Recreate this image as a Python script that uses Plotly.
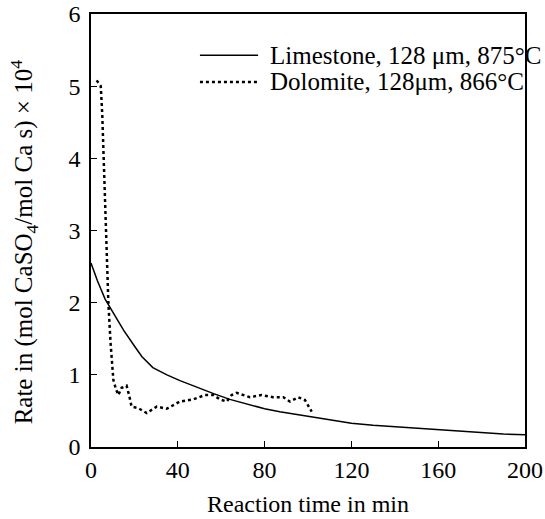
import plotly.graph_objects as go

# Limestone, 128 um, 875 C
lime_t = [0, 3, 6.5, 10, 15, 20, 23.5, 28.5, 35, 41, 50, 56.5, 64, 72, 80, 87, 95,
          102, 110, 120, 130, 140, 150, 160, 170, 180, 190, 200]
lime_r = [2.55, 2.3, 2.05, 1.88, 1.62, 1.40, 1.25, 1.10, 1.00, 0.92, 0.81, 0.74, 0.66,
          0.59, 0.53, 0.49, 0.45, 0.41, 0.37, 0.33, 0.30, 0.28, 0.26, 0.24, 0.22, 0.19,
          0.18, 0.17]

# Dolomite, 128 um, 866 C
dolo_t = [2.6, 4.5, 5.2, 6.0, 7.0, 8.0, 9.0, 10.3, 11.5, 12.6, 14.1, 16.4, 17.7, 18.7,
          21.7, 25.7, 30.3, 34.9, 41, 47.1, 52.5, 56.4, 59.4, 62.5, 64.8, 67.1, 73.3,
          78.6, 84, 88.6, 91.7, 95.5, 98.6, 101.7]
dolo_r = [5.08, 5.0, 4.6, 3.8, 3.0, 2.0, 1.45, 0.93, 0.80, 0.72, 0.82, 0.85, 0.70, 0.56,
          0.54, 0.47, 0.56, 0.53, 0.63, 0.66, 0.72, 0.72, 0.66, 0.63, 0.72, 0.75, 0.69,
          0.72, 0.69, 0.69, 0.63, 0.69, 0.65, 0.49]

series_names = ["Limestone, 128 \u03bcm, 875\u00b0C", "Dolomite, 128\u03bcm, 866\u00b0C"]

x_ticks = [0, 40, 80, 120, 160, 200]
y_ticks = [0, 1, 2, 3, 4, 5, 6]

FONT = "Liberation Serif, Times New Roman, DejaVu Serif, serif"
styles = [dict(color="black", width=1.5), dict(color="black", width=2.5, dash="dot")]

fig = go.Figure()
fig.add_trace(go.Scatter(x=lime_t, y=lime_r, mode="lines", name=series_names[0],
                         line=styles[0], showlegend=False))
fig.add_trace(go.Scatter(x=dolo_t, y=dolo_r, mode="lines", name=series_names[1],
                         line=styles[1], showlegend=False))

# legend drawn as keys + text (paper coordinates)
legend_rows_y = [0.905, 0.843]
for name, st, ly in zip(series_names, styles, legend_rows_y):
    fig.add_shape(type="line", xref="paper", yref="paper", x0=0.251, x1=0.385,
                  y0=ly, y1=ly, line=st)
    fig.add_annotation(text=name, xref="paper", yref="paper", x=0.408, y=ly,
                       xanchor="left", yanchor="middle", showarrow=False,
                       font=dict(family=FONT, size=25, color="black"))

axis_common = dict(showgrid=False, zeroline=False, showline=True, linecolor="black",
                   linewidth=1.5, mirror=True, ticks="inside", ticklen=6,
                   tickcolor="black", tickwidth=1, automargin=False,
                   tickfont=dict(family=FONT, size=24, color="black"))

fig.update_xaxes(range=[0, 200], tickvals=x_ticks, ticktext=[str(v) for v in x_ticks],
                 title=dict(text="Reaction time in min",
                            font=dict(family=FONT, size=24, color="black"),
                            standoff=14),
                 **axis_common)
fig.update_yaxes(range=[0, 6], tickvals=y_ticks, ticktext=[str(v) for v in y_ticks],
                 ticklabelstandoff=4, **axis_common)

fig.add_annotation(text="Rate in (mol CaSO<sub>4</sub>/mol Ca s) \u00d7 10<sup>4</sup>",
                   xref="paper", yref="paper", x=-0.154, y=0.473,
                   xanchor="center", yanchor="middle", textangle=-90, showarrow=False,
                   font=dict(family=FONT, size=25, color="black"))

fig.update_layout(
    width=545, height=519,
    margin=dict(l=91, r=20, t=14, b=72, autoexpand=False),
    paper_bgcolor="white", plot_bgcolor="white",
    font=dict(family=FONT, color="black"),
    showlegend=False,
)

fig.write_html("out.html")
